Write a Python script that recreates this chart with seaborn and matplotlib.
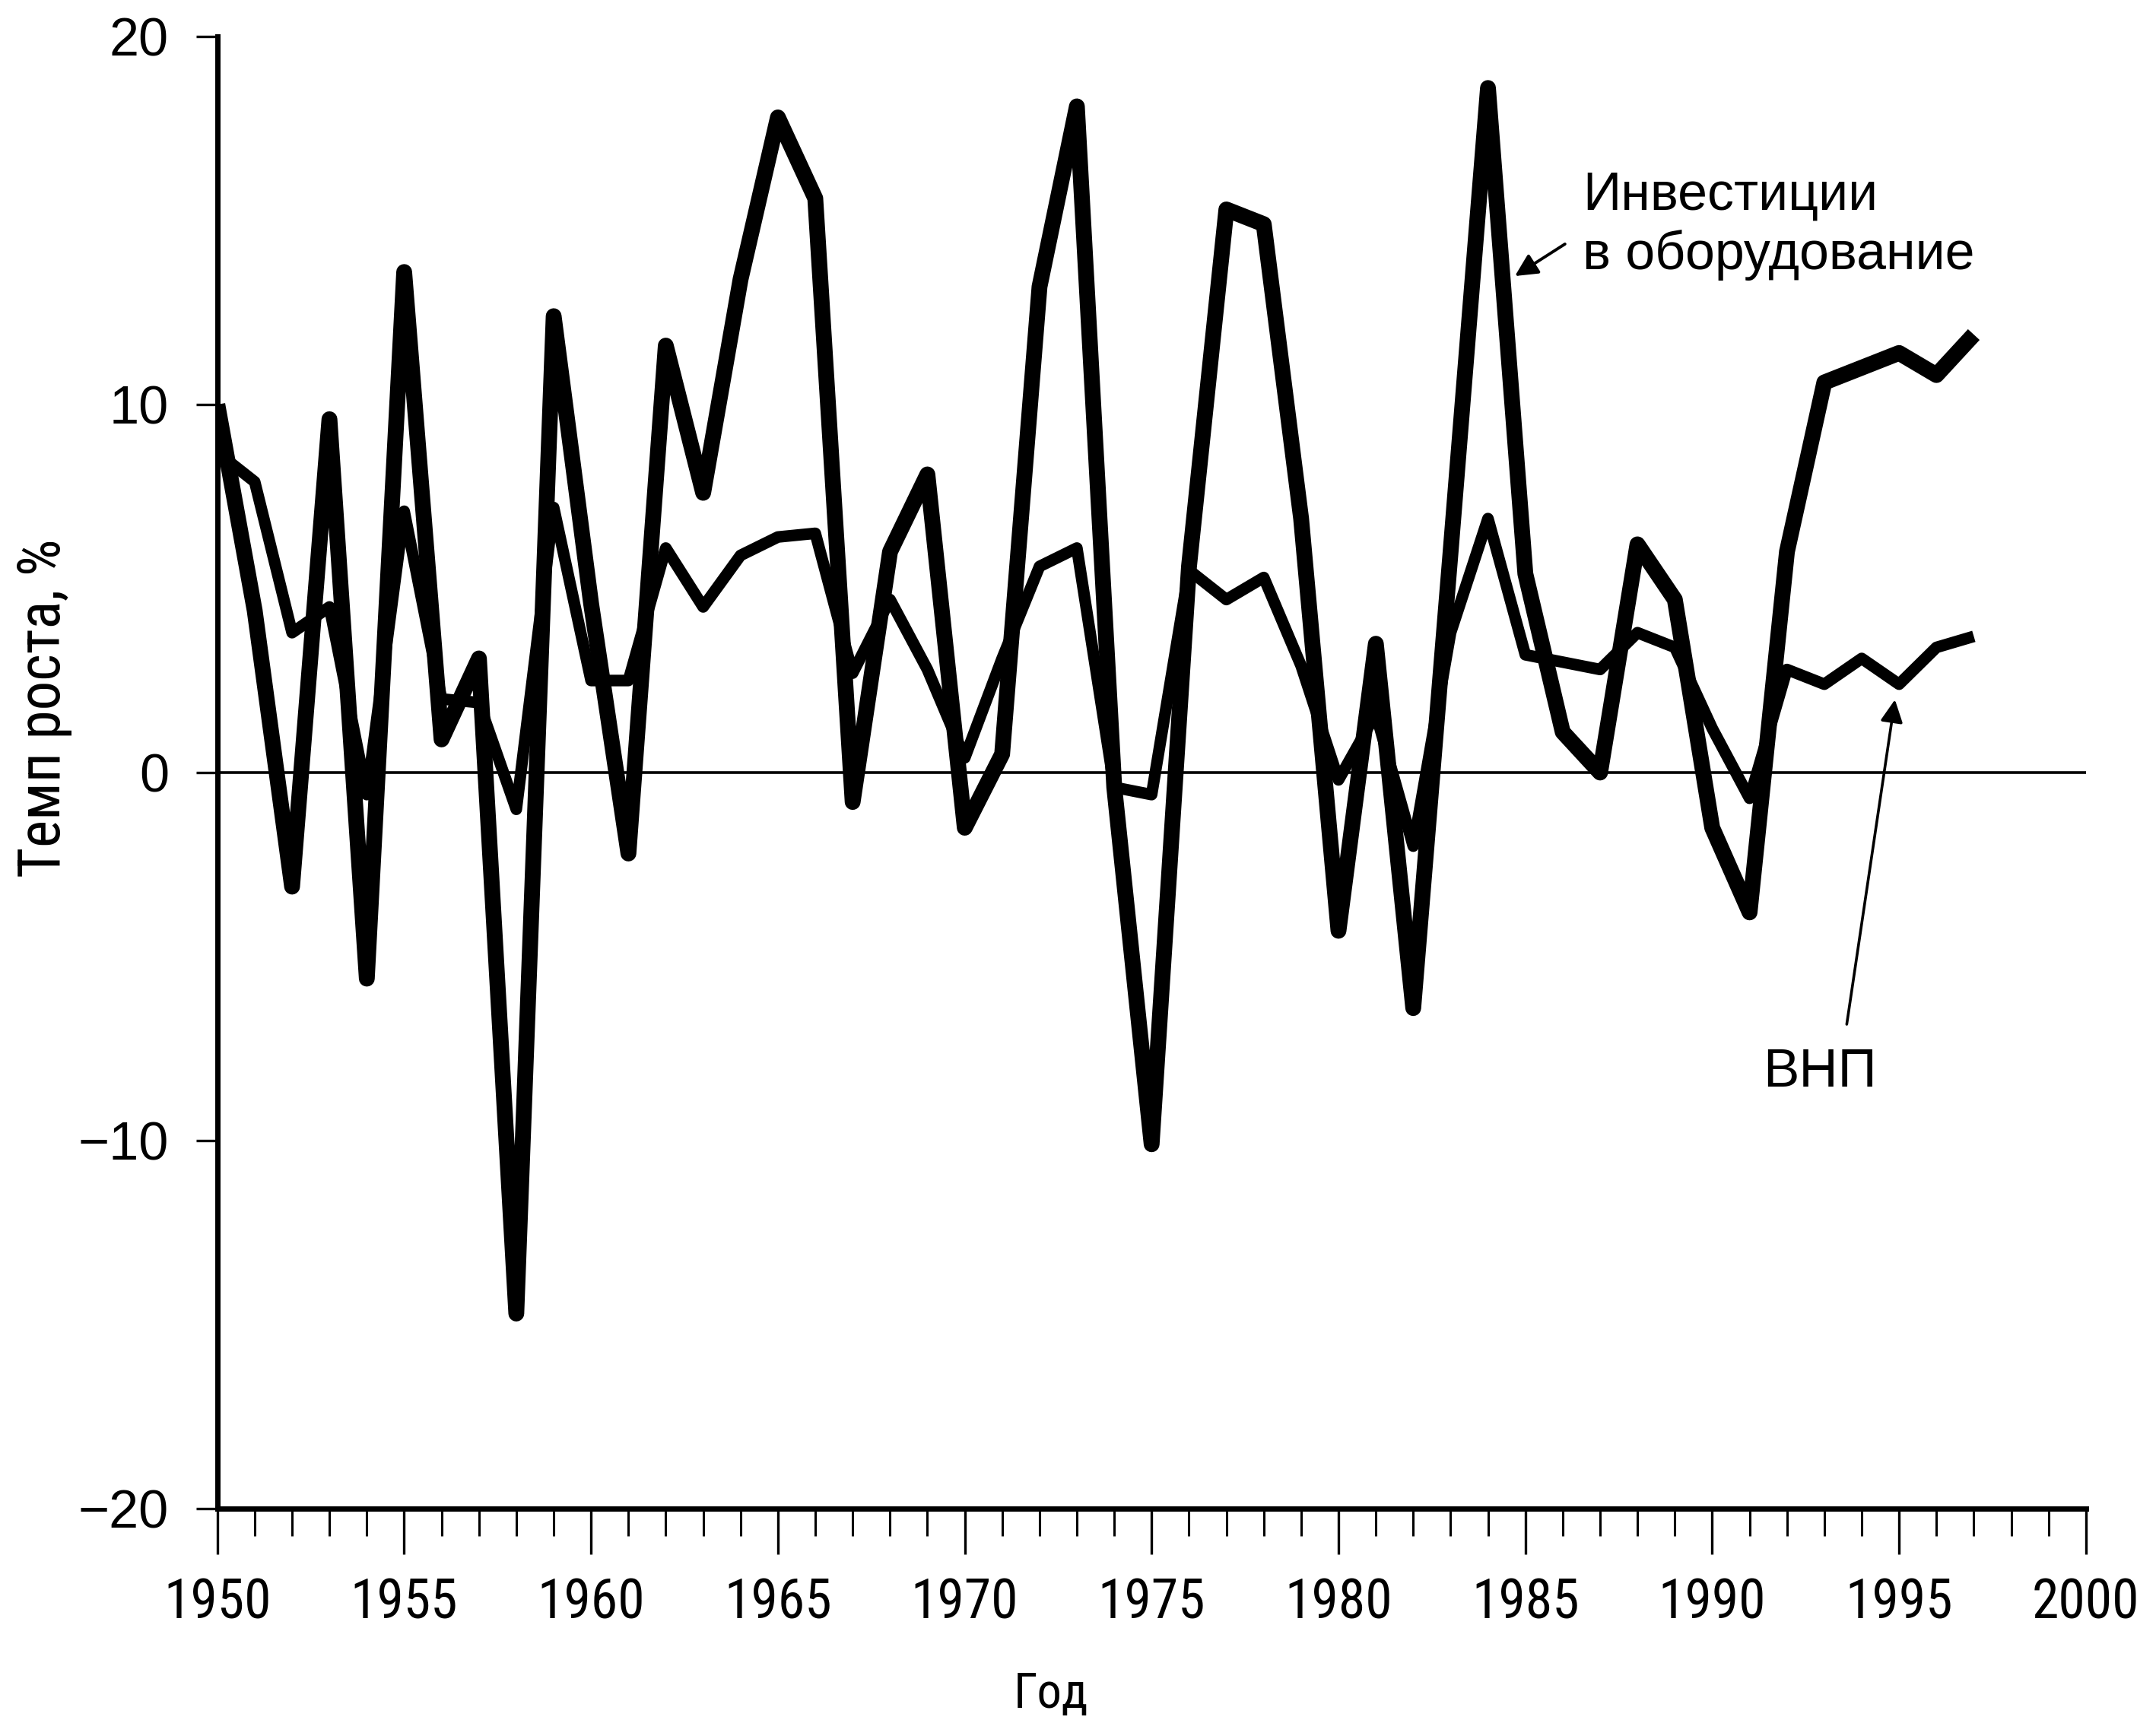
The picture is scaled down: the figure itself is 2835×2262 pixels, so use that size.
import matplotlib
matplotlib.use("Agg")
import matplotlib.pyplot as plt
from matplotlib import font_manager as fm
from matplotlib.textpath import TextPath
from matplotlib.ticker import MultipleLocator
import seaborn as sns
import pandas as pd

# ---------------- data ----------------
years = list(range(1950, 1998))
investment = [10.0, 4.4, -3.1, 9.6, -5.6, 13.6, 0.9, 3.1, -14.7, 12.4,
              4.6, -2.2, 11.6, 7.6, 13.4, 17.8, 15.6, -0.8, 6.0, 8.1,
              -1.5, 0.5, 13.2, 18.1, -0.4, -10.1, 5.6, 15.3, 14.9, 6.9,
              -4.3, 3.5, -6.4, 6.0, 18.6, 5.4, 1.1, 0.0, 6.2, 4.7,
              -1.5, -3.8, 6.0, 10.6, 11.0, 11.4, 10.8, 11.9]
gnp = [8.7, 7.9, 3.8, 4.5, -0.6, 7.1, 2.0, 1.9, -1.0, 7.2,
       2.5, 2.5, 6.1, 4.5, 5.9, 6.4, 6.5, 2.7, 4.7, 2.8,
       0.4, 3.1, 5.6, 6.1, -0.4, -0.6, 5.5, 4.7, 5.3, 2.9,
       -0.2, 1.6, -2.0, 3.8, 6.9, 3.2, 3.0, 2.8, 3.8, 3.4,
       1.2, -0.7, 2.8, 2.4, 3.1, 2.4, 3.4, 3.7]
x_major_ticks = list(range(1950, 2001, 5))
y_ticks = [-20, -10, 0, 10, 20]
label_invest = ["Инвестиции", "в оборудование"]
label_gnp = "ВНП"
x_label = "Год"
y_label = "Темп роста, %"

df_inv = pd.DataFrame({"year": years, "value": investment})
df_gnp = pd.DataFrame({"year": years, "value": gnp})

# ---------------- fonts ----------------
sns.set_style("ticks")
plt.rcParams["font.family"] = ["Liberation Sans", "DejaVu Sans"]


def pick(families):
    for f in families:
        try:
            fm.findfont(fm.FontProperties(family=f), fallback_to_default=False)
            return f
        except Exception:
            pass
    return "DejaVu Sans"


def fit(s, family, target_px, mode="w"):
    tp = TextPath((0, 0), s, size=100, prop=fm.FontProperties(family=family))
    ext = tp.get_extents()
    w = ext.width if mode == "w" else ext.height
    return 100 * target_px * 0.72 / w


regular = pick(["Liberation Sans", "Arial", "DejaVu Sans"])
cond = pick(["Liberation Sans Narrow", "Roboto Condensed", "Liberation Sans"])

xtick_size = fit("1950", cond, 132)
ytick_size = fit("20", regular, 72)
ylab_size = fit(y_label, cond, 440)
xlab_size = fit(x_label, cond, 56, mode="h")
inv_size = fit(label_invest[0], regular, 377)
gnp_size = fit(label_gnp, regular, 138)

# ---------------- figure ----------------
fig = plt.figure(figsize=(28.35, 22.62), dpi=100)
ax = fig.add_axes([0.1008, 0.1229, 0.8667, 0.8559])

sns.lineplot(data=df_inv, x="year", y="value", ax=ax, color="black",
             linewidth=15, solid_joinstyle="round", solid_capstyle="butt", legend=False)
sns.lineplot(data=df_gnp, x="year", y="value", ax=ax, color="black",
             linewidth=11, solid_joinstyle="round", solid_capstyle="butt", legend=False)

ax.axhline(0, color="black", linewidth=2.6, zorder=1)

ax.set_xlim(1950, 2000)
ax.set_ylim(-20, 20)
ax.set_xticks(x_major_ticks)
ax.xaxis.set_minor_locator(MultipleLocator(1))
ax.set_yticks(y_ticks)

for s in ["top", "right"]:
    ax.spines[s].set_visible(False)
for s in ["left", "bottom"]:
    ax.spines[s].set_linewidth(5)
    ax.spines[s].set_color("black")

ax.tick_params(axis="x", which="major", direction="out", length=43, width=2.4,
               pad=22, colors="black")
ax.tick_params(axis="x", which="minor", direction="out", length=26, width=2.2,
               colors="black")
ax.tick_params(axis="y", which="major", direction="out", length=20, width=2.4,
               pad=26, labelsize=ytick_size, colors="black")
for lab in ax.get_xticklabels():
    lab.set_family(cond)
    lab.set_fontsize(xtick_size)
for lab in ax.get_yticklabels():
    lab.set_family(regular)

ax.set_xlabel(x_label, fontsize=xlab_size, family=cond, color="black")
ax.xaxis.set_label_coords(0.446, -0.110)
ax.set_ylabel(y_label, fontsize=ylab_size, family=cond, color="black",
              va="center")
ax.yaxis.set_label_coords(-0.0927, 0.544)

# annotations
ax.text(1986.53, 15.29, label_invest[0], fontsize=inv_size, family=regular,
        color="black", ha="left", va="baseline")
ax.text(1986.53, 13.68, label_invest[1], fontsize=inv_size, family=regular,
        color="black", ha="left", va="baseline")
ax.annotate("", xy=(1984.72, 13.49), xytext=(1986.06, 14.36),
            arrowprops=dict(arrowstyle="-|>", color="black", lw=2.8,
                            mutation_scale=45, shrinkA=0, shrinkB=0))
ax.text(1992.88, -8.53, label_gnp, fontsize=gnp_size, family=regular,
        color="black", ha="center", va="baseline")
ax.annotate("", xy=(1994.89, 1.98), xytext=(1993.6, -6.84),
            arrowprops=dict(arrowstyle="-|>", color="black", lw=2.6,
                            mutation_scale=45, shrinkA=0, shrinkB=0))

fig.savefig("out.png", dpi=100, facecolor="white")
